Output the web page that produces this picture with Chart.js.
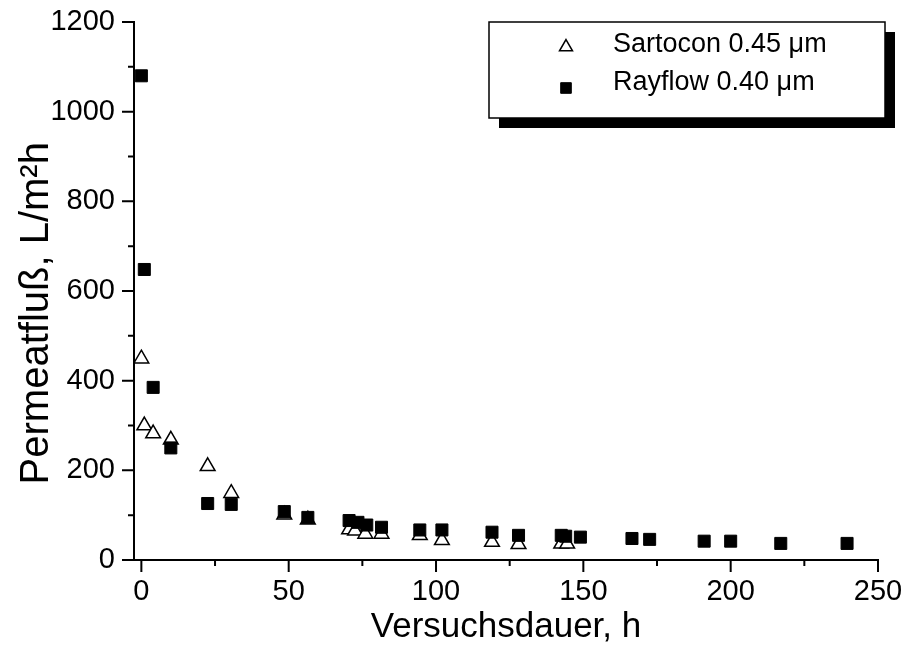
<!DOCTYPE html>
<html>
<head>
<meta charset="utf-8">
<script src="https://cdn.jsdelivr.net/npm/chart.js"></script>
<style>
  html, body { margin: 0; padding: 0; background: #fff; }
  #wrap { width: 905px; height: 645px; }
</style>
</head>
<body>
<div id="wrap"><canvas id="chart" width="905" height="645"></canvas></div>
<script>
// Sartocon 0.45 µm (open triangles)
const sartoconHours = [0, 1, 4, 10, 22.5, 30.5, 48.5, 56.5, 70.5, 72.5, 76, 81.5, 94.5, 102, 119, 128, 142.5, 144.5];
const sartoconFlux  = [449, 300, 282, 268, 209, 149, 101, 90, 68, 65, 58, 58, 55, 44, 40, 35, 36, 36];

// Rayflow 0.40 µm (filled squares)
const rayflowHours = [0, 1, 4, 10, 22.5, 30.5, 48.5, 56.5, 70.5, 73.5, 76.5, 81.5, 94.5, 102, 119, 128, 142.5, 144, 149, 166.5, 172.5, 191, 200, 217, 239.5];
const rayflowFlux  = [1080, 648, 385, 250, 126, 124, 108, 95, 88, 84, 78, 73, 67, 67, 62, 55, 55, 53, 51, 48, 46, 42, 42, 37, 37];

const seriesNames = ['Sartocon 0.45 \u03bcm', 'Rayflow 0.40 \u03bcm'];

const xTicks = [0, 50, 100, 150, 200, 250];
const xMinorTicks = [25, 75, 125, 175, 225];
const yTicks = [0, 200, 400, 600, 800, 1000, 1200];
const yMinorTicks = [100, 300, 500, 700, 900, 1100];

const FONT = '"Liberation Sans", Arial, sans-serif';

const toPoints = (xs, ys) => xs.map((x, i) => ({ x: x, y: ys[i] }));

// outward tick marks, long for major and short for minor
const tickMarks = {
  id: 'tickMarks',
  afterDraw(chart) {
    const ctx = chart.ctx;
    const xs = chart.scales.x, ys = chart.scales.y;
    const x0 = chart.chartArea.left, y0 = chart.chartArea.bottom;
    ctx.save();
    ctx.strokeStyle = '#000';
    ctx.lineWidth = 2;
    ctx.beginPath();
    xTicks.forEach(v => { const p = xs.getPixelForValue(v); ctx.moveTo(p, y0); ctx.lineTo(p, y0 + 12); });
    xMinorTicks.forEach(v => { const p = xs.getPixelForValue(v); ctx.moveTo(p, y0); ctx.lineTo(p, y0 + 6); });
    yTicks.forEach(v => { const p = ys.getPixelForValue(v); ctx.moveTo(x0, p); ctx.lineTo(x0 - 12, p); });
    yMinorTicks.forEach(v => { const p = ys.getPixelForValue(v); ctx.moveTo(x0, p); ctx.lineTo(x0 - 6, p); });
    ctx.stroke();
    ctx.restore();
  }
};

// boxed legend with drop shadow
const boxLegend = {
  id: 'boxLegend',
  afterDraw(chart) {
    const ctx = chart.ctx;
    const bx = 489, by = 22, bw = 396, bh = 96, sh = 10;
    ctx.save();
    ctx.fillStyle = '#000';
    ctx.fillRect(bx + sh, by + sh, bw, bh);
    ctx.fillStyle = '#fff';
    ctx.fillRect(bx, by, bw, bh);
    ctx.strokeStyle = '#000';
    ctx.lineWidth = 1.5;
    ctx.strokeRect(bx, by, bw, bh);

    const rows = [47, 88];
    const baselines = [52, 90];
    chart.data.datasets.forEach((ds, i) => {
      const opts = {
        pointStyle: ds.pointStyle,
        radius: ds.pointRadius - 1,
        borderWidth: ds.borderWidth
      };
      ctx.fillStyle = ds.backgroundColor;
      ctx.strokeStyle = ds.borderColor;
      ctx.lineWidth = ds.borderWidth;
      Chart.helpers.drawPoint(ctx, opts, 566, rows[i]);
      ctx.fillStyle = '#000';
      ctx.font = '27px ' + FONT;
      ctx.textAlign = 'left';
      ctx.textBaseline = 'alphabetic';
      ctx.fillText(seriesNames[i], 613, baselines[i]);
    });
    ctx.restore();
  }
};

new Chart(document.getElementById('chart'), {
  type: 'scatter',
  data: {
    datasets: [
      {
        label: seriesNames[0],
        data: toPoints(sartoconHours, sartoconFlux),
        pointStyle: 'triangle',
        pointRadius: 8.5,
        backgroundColor: '#fff',
        borderColor: '#000',
        borderWidth: 1.5,
        order: 1
      },
      {
        label: seriesNames[1],
        data: toPoints(rayflowHours, rayflowFlux),
        pointStyle: 'rect',
        pointRadius: 8.5,
        backgroundColor: '#000',
        borderColor: '#000',
        borderWidth: 1,
        order: 0
      }
    ]
  },
  options: {
    responsive: false,
    animation: false,
    layout: { padding: { left: 0, top: 22, right: 27, bottom: 0 } },
    plugins: { legend: { display: false }, tooltip: { enabled: false } },
    scales: {
      x: {
        type: 'linear',
        min: -2.5,
        max: 250,
        grid: { display: false, drawTicks: false },
        border: { display: true, color: '#000', width: 2 },
        afterBuildTicks: s => { s.ticks = xTicks.map(v => ({ value: v })); },
        afterFit: s => { s.height = 85; s.paddingLeft = 0; s.paddingRight = 0; },
        ticks: {
          color: '#000',
          font: { family: FONT, size: 29 },
          padding: 15,
          maxRotation: 0,
          autoSkip: false,
          callback: v => String(v)
        },
        title: {
          display: true,
          text: 'Versuchsdauer, h',
          color: '#000',
          font: { family: FONT, size: 35 },
          padding: { top: 0, bottom: -3 }
        }
      },
      y: {
        type: 'linear',
        min: 0,
        max: 1200,
        grid: { display: false, drawTicks: false },
        border: { display: true, color: '#000', width: 2 },
        afterBuildTicks: s => { s.ticks = yTicks.map(v => ({ value: v })); },
        afterFit: s => { s.width = 134; s.paddingTop = 0; s.paddingBottom = 0; },
        ticks: {
          color: '#000',
          font: { family: FONT, size: 29 },
          padding: 19,
          autoSkip: false,
          callback: v => String(v)
        },
        title: {
          display: true,
          // trailing spaces nudge the centred title down like the original
          text: 'Permeatflu\u00df, L/m\u00b2h    ',
          color: '#000',
          font: { family: FONT, size: 40 },
          padding: { top: 13, bottom: 0 }
        }
      }
    }
  },
  plugins: [tickMarks, boxLegend]
});
</script>
</body>
</html>
